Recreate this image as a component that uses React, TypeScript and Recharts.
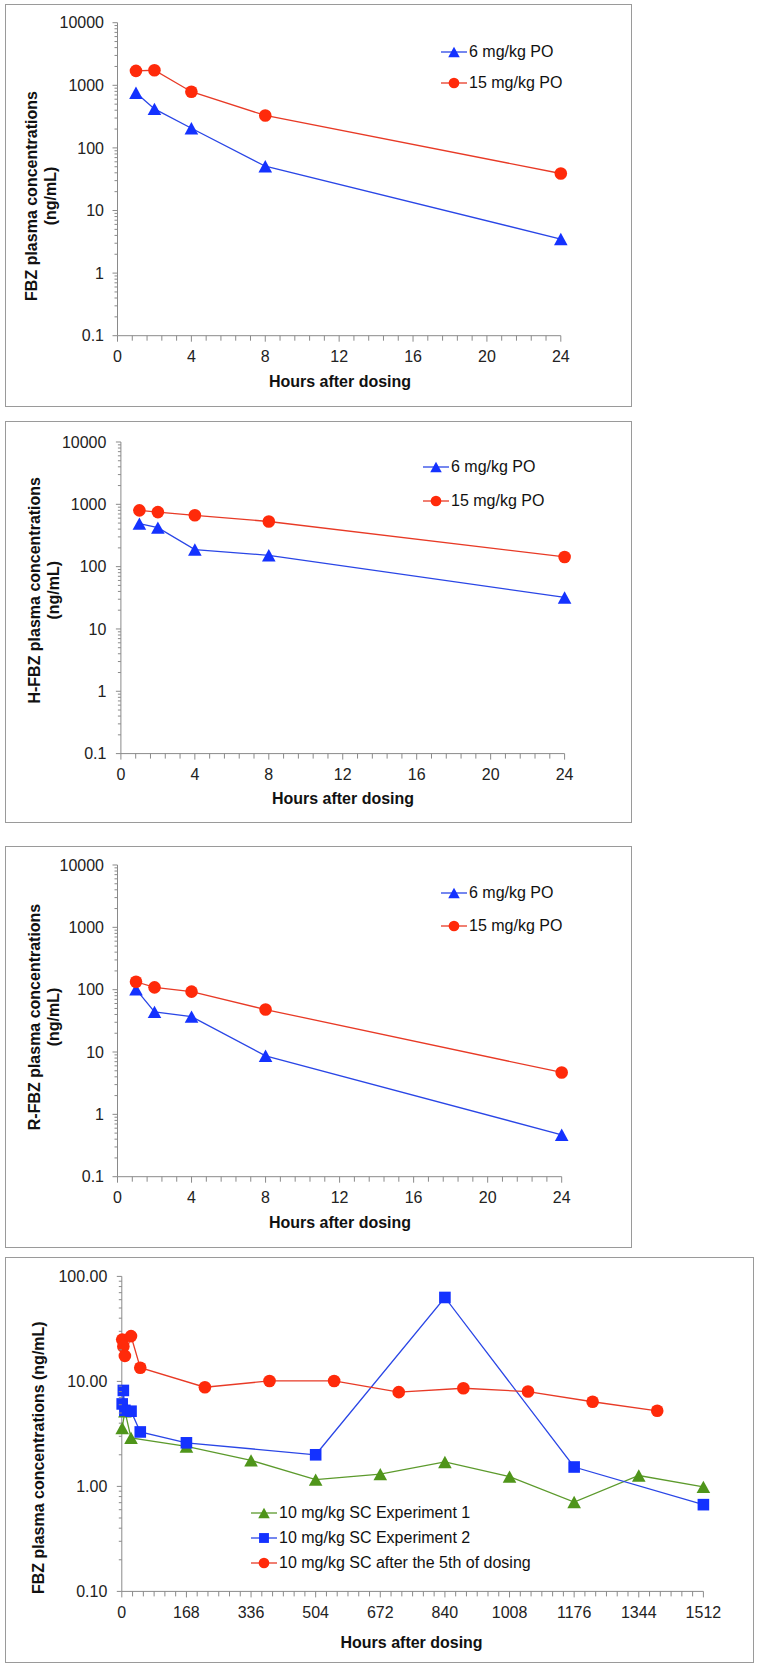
import React from 'react';
import { LineChart, Line, XAxis, YAxis, Legend } from 'recharts';

const FONT = "'Liberation Sans', Arial, Helvetica, sans-serif";
const AXIS = '#8a8a8a';
const BLUE = '#1432ff';
const BLUE_LINE = '#2a46e6';
const RED = '#ff2a0a';
const RED_LINE = '#e83a26';
const GREEN = '#4f951a';
const GREEN_LINE = '#5c9a2c';

// ---- Oral dosing panels (hours after dosing) ----
const hoursPO = [1, 2, 4, 8, 24];
const fbz6 = [760, 420, 206, 51, 3.5];
const fbz15 = [1700, 1740, 790, 330, 39];
const hfbz6 = [490, 423, 188, 152, 32];
const hfbz15 = [800, 750, 666, 530, 143];
const rfbz6 = [101, 44, 37, 8.7, 0.47];
const rfbz15 = [134, 109, 93, 48, 4.7];

// ---- SC dosing panel ----
const hoursExp1 = [1, 8, 24, 168, 336, 504, 672, 840, 1008, 1176, 1344, 1512];
const exp1 = [3.6, 5.2, 2.9, 2.4, 1.77, 1.16, 1.31, 1.71, 1.24, 0.71, 1.27, 0.99];
const hoursExp2 = [1, 4, 8, 24, 48, 168, 504, 840, 1176, 1512];
const exp2 = [6.1, 8.2, 5.3, 5.2, 3.3, 2.6, 2.0, 63, 1.53, 0.67];
const hoursFifth = [1, 4, 8, 24, 48, 216, 384, 552, 720, 888, 1056, 1224, 1392];
const fifth = [25, 21.5, 17.5, 27, 13.5, 8.8, 10.1, 10.1, 7.9, 8.6, 8.0, 6.4, 5.25];

// ---- Tick labels ----
const poXTicks = [0, 4, 8, 12, 16, 20, 24];
const poYTicks = [0.1, 1, 10, 100, 1000, 10000];
const scXTicks = [0, 168, 336, 504, 672, 840, 1008, 1176, 1344, 1512];
const scYTicks = [0.1, 1, 10, 100];
const poXMinorStep = 0.8;
const scXMinorStep = 28;

const zip = (xs: number[], ys: number[]) => xs.map((h, i) => ({ h, v: ys[i] }));

const logMinorTicks = (majors: number[]) => {
  const out: number[] = [];
  for (let i = 0; i < majors.length; i++) {
    out.push(majors[i]);
    if (i < majors.length - 1) {
      for (let k = 2; k <= 9; k++) out.push(+(majors[i] * k).toPrecision(6));
    }
  }
  return out;
};

const linMinorTicks = (max: number, step: number) => {
  const out: number[] = [];
  const n = Math.round(max / step);
  for (let i = 0; i <= n; i++) out.push(+(i * step).toFixed(4));
  return out;
};

const isIn = (arr: number[], v: number) => arr.some((m) => Math.abs(m - v) <= Math.abs(m) * 1e-6 + 1e-9);

type Shape = 'triangle' | 'circle' | 'square';

const Marker = ({ shape, cx, cy, color, size = 1 }: any) => {
  if (cx == null || cy == null) return null;
  if (shape === 'triangle') {
    const hw = 6.8 * size;
    const hh = 6.2 * size;
    return <polygon points={`${cx},${cy - hh} ${cx - hw},${cy + hh} ${cx + hw},${cy + hh}`} fill={color} />;
  }
  if (shape === 'square') {
    const s = 5.8 * size;
    return <rect x={cx - s} y={cy - s} width={2 * s} height={2 * s} fill={color} />;
  }
  return <circle cx={cx} cy={cy} r={6.3 * size} fill={color} />;
};

const makeDot = (shape: Shape, color: string) => (props: any) => (
  <Marker key={`d-${props.index}`} shape={shape} cx={props.cx} cy={props.cy} color={color} />
);

const makeYTick = (majors: number[], fmt: (v: number) => string, labelGap: number) => (props: any) => {
  const { x, y, payload } = props;
  const v = payload.value;
  const major = isIn(majors, v);
  return (
    <g>
      <line x1={x - (major ? 5 : 3)} x2={x} y1={y} y2={y} stroke={AXIS} strokeWidth={1} />
      {major && (
        <text x={x - labelGap} y={y} dy="0.36em" textAnchor="end" fontSize={16} fill="#222" fontFamily={FONT}>
          {fmt(v)}
        </text>
      )}
    </g>
  );
};

const makeXTick = (majors: number[]) => (props: any) => {
  const { x, y, payload } = props;
  const v = payload.value;
  const major = isIn(majors, v);
  return (
    <g>
      <line x1={x} x2={x} y1={y} y2={y + (major ? 6 : 5)} stroke={AXIS} strokeWidth={1} />
      {major && (
        <text x={x} y={y + 21} dy="0.36em" textAnchor="middle" fontSize={16} fill="#222" fontFamily={FONT}>
          {v}
        </text>
      )}
    </g>
  );
};

type Series = { name: string; data: { h: number; v: number }[]; shape: Shape; color: string; line: string };

const LegendBox = ({ items, rowH }: { items: Series[]; rowH: number }) => (
  <div style={{ fontFamily: FONT, fontSize: 16, color: '#111', lineHeight: 1 }}>
    {items.map((it) => (
      <div key={it.name} style={{ display: 'flex', alignItems: 'center', height: rowH }}>
        <svg width={26} height={14} style={{ display: 'block', overflow: 'visible' }}>
          <line x1={0} x2={26} y1={7} y2={7} stroke={it.line} strokeWidth={1.3} />
          <Marker shape={it.shape} cx={13} cy={7} color={it.color} size={0.85} />
        </svg>
        <span style={{ marginLeft: 2, whiteSpace: 'nowrap' }}>{it.name}</span>
      </div>
    ))}
  </div>
);

type PanelCfg = {
  box: { x: number; y: number; w: number; h: number };
  margin: { top: number; right: number };
  yAxisW: number;
  xAxisH: number;
  xMax: number;
  xMajors: number[];
  xMinorStep: number;
  yMajors: number[];
  yFmt: (v: number) => string;
  yGap: number;
  yTitle: string[];
  yTitleX: number[];
  yTitleY: number;
  xTitleX: number;
  xTitleY: number;
  legend: { left: number; top: number; rowH: number };
  series: Series[];
};

const PKPanel = ({ cfg }: { cfg: PanelCfg }) => {
  const { box } = cfg;
  const yTicks = logMinorTicks(cfg.yMajors);
  const xTicks = linMinorTicks(cfg.xMax, cfg.xMinorStep);
  return (
    <>
      <div
        style={{
          position: 'absolute',
          left: box.x,
          top: box.y,
          width: box.w,
          height: box.h,
          border: '1.5px solid #9a9a9a',
          boxSizing: 'border-box',
        }}
      />
      <div style={{ position: 'absolute', left: box.x, top: box.y, width: box.w, height: box.h }}>
        <LineChart
          width={box.w}
          height={box.h}
          margin={{ top: cfg.margin.top, right: cfg.margin.right, left: 0, bottom: 0 }}
        >
          <XAxis
            type="number"
            dataKey="h"
            domain={[0, cfg.xMax]}
            ticks={xTicks}
            interval={0}
            height={cfg.xAxisH}
            tickSize={0}
            tickMargin={0}
            tickLine={false}
            axisLine={{ stroke: AXIS, strokeWidth: 1 }}
            tick={makeXTick(cfg.xMajors)}
            label={{
              content: () => (
                <text
                  x={cfg.xTitleX}
                  y={cfg.xTitleY}
                  dy="0.36em"
                  textAnchor="middle"
                  fontSize={16}
                  fontWeight="bold"
                  fill="#111"
                  fontFamily={FONT}
                >
                  Hours after dosing
                </text>
              ),
            }}
          />
          <YAxis
            type="number"
            scale="log"
            domain={[cfg.yMajors[0], cfg.yMajors[cfg.yMajors.length - 1]]}
            ticks={yTicks}
            interval={0}
            width={cfg.yAxisW}
            tickSize={0}
            tickMargin={0}
            tickLine={false}
            axisLine={{ stroke: AXIS, strokeWidth: 1 }}
            tick={makeYTick(cfg.yMajors, cfg.yFmt, cfg.yGap)}
            label={{
              content: () => (
                <g>
                  {cfg.yTitle.map((t, i) => (
                    <text
                      key={t}
                      x={cfg.yTitleX[i]}
                      y={cfg.yTitleY}
                      dy="0.36em"
                      transform={`rotate(-90, ${cfg.yTitleX[i]}, ${cfg.yTitleY})`}
                      textAnchor="middle"
                      fontSize={16}
                      fontWeight="bold"
                      fill="#111"
                      fontFamily={FONT}
                    >
                      {t}
                    </text>
                  ))}
                </g>
              ),
            }}
          />
          <Legend
            layout="vertical"
            align="center"
            verticalAlign="middle"
            wrapperStyle={{ left: cfg.legend.left, top: cfg.legend.top, width: 'auto' }}
            content={() => <LegendBox items={cfg.series} rowH={cfg.legend.rowH} />}
          />
          {cfg.series.map((s) => (
            <Line
              key={s.name}
              data={s.data}
              dataKey="v"
              name={s.name}
              stroke={s.line}
              strokeWidth={1.3}
              dot={makeDot(s.shape, s.color)}
              activeDot={false}
              isAnimationActive={false}
            />
          ))}
        </LineChart>
      </div>
    </>
  );
};

const fmtPO = (v: number) => String(v);
const fmtSC = (v: number) => v.toFixed(2);

const poSeries = (a: number[], b: number[]): Series[] => [
  { name: '6 mg/kg PO', data: zip(hoursPO, a), shape: 'triangle', color: BLUE, line: BLUE_LINE },
  { name: '15 mg/kg PO', data: zip(hoursPO, b), shape: 'circle', color: RED, line: RED_LINE },
];

const panels: PanelCfg[] = [
  {
    box: { x: 5, y: 4, w: 627, h: 403 },
    margin: { top: 18.7, right: 71.2 },
    yAxisW: 112.5,
    xAxisH: 71.3,
    xMax: 24,
    xMajors: poXTicks,
    xMinorStep: poXMinorStep,
    yMajors: poYTicks,
    yFmt: fmtPO,
    yGap: 13.5,
    yTitle: ['FBZ plasma concentrations', '(ng/mL)'],
    yTitleX: [26, 45],
    yTitleY: 192,
    xTitleX: 335,
    xTitleY: 377,
    legend: { left: 436, top: 32.5, rowH: 31 },
    series: poSeries(fbz6, fbz15),
  },
  {
    box: { x: 5, y: 420.7, w: 627, h: 402.6 },
    margin: { top: 21, right: 67.4 },
    yAxisW: 115.9,
    xAxisH: 70,
    xMax: 24,
    xMajors: poXTicks,
    xMinorStep: poXMinorStep,
    yMajors: poYTicks,
    yFmt: fmtPO,
    yGap: 14.5,
    yTitle: ['H-FBZ plasma concentrations', '(ng/mL)'],
    yTitleX: [29, 48],
    yTitleY: 169.3,
    xTitleX: 338,
    xTitleY: 377.6,
    legend: { left: 418, top: 29.6, rowH: 34 },
    series: poSeries(hfbz6, hfbz15),
  },
  {
    box: { x: 5, y: 846, w: 627, h: 401.7 },
    margin: { top: 19, right: 70.3 },
    yAxisW: 112.5,
    xAxisH: 71,
    xMax: 24,
    xMajors: poXTicks,
    xMinorStep: poXMinorStep,
    yMajors: poYTicks,
    yFmt: fmtPO,
    yGap: 13.5,
    yTitle: ['R-FBZ plasma concentrations', '(ng/mL)'],
    yTitleX: [29, 48],
    yTitleY: 171,
    xTitleX: 335,
    xTitleY: 376,
    legend: { left: 436, top: 30.8, rowH: 33 },
    series: poSeries(rfbz6, rfbz15),
  },
  {
    box: { x: 5, y: 1257.3, w: 749, h: 405.4 },
    margin: { top: 19.4, right: 50.6 },
    yAxisW: 116.8,
    xAxisH: 71,
    xMax: 1512,
    xMajors: scXTicks,
    xMinorStep: scXMinorStep,
    yMajors: scYTicks,
    yFmt: fmtSC,
    yGap: 14.5,
    yTitle: ['FBZ plasma concentrations (ng/mL)'],
    yTitleX: [33],
    yTitleY: 200.7,
    xTitleX: 406.6,
    xTitleY: 385.7,
    legend: { left: 246, top: 242.9, rowH: 25 },
    series: [
      { name: '10 mg/kg SC Experiment 1', data: zip(hoursExp1, exp1), shape: 'triangle', color: GREEN, line: GREEN_LINE },
      { name: '10 mg/kg SC Experiment 2', data: zip(hoursExp2, exp2), shape: 'square', color: BLUE, line: BLUE_LINE },
      { name: '10 mg/kg SC after the 5th of dosing', data: zip(hoursFifth, fifth), shape: 'circle', color: RED, line: RED_LINE },
    ],
  },
];

export default function App() {
  return (
    <div style={{ position: 'absolute', left: 0, top: 0, width: 758, height: 1668, background: '#fff' }}>
      {panels.map((p, i) => (
        <PKPanel key={i} cfg={p} />
      ))}
    </div>
  );
}
